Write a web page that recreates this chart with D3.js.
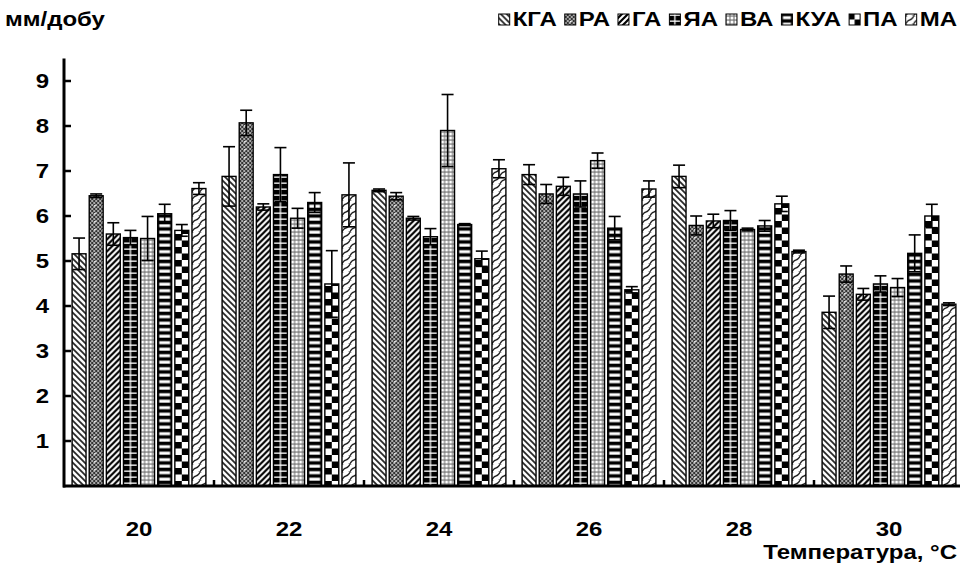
<!DOCTYPE html>
<html>
<head>
<meta charset="utf-8">
<script src="https://cdn.jsdelivr.net/npm/d3@7"></script>
<style>
  html, body { margin: 0; padding: 0; background: #fff; }
  svg { display: block; }
  text { font-family: "Liberation Sans", Arial, sans-serif; font-weight: bold; fill: #000; }
</style>
</head>
<body>
<svg id="chart" width="960" height="573"></svg>
<script>
// Temperatures (°C) on the category axis
const categories = ["20", "22", "24", "26", "28", "30"];
const seriesNames = ["КГА", "РА", "ГА", "ЯА", "ВА", "КУА", "ПА", "МА"];

// Growth rate, mm/day, one array per series (in category order)
const valKGA = [5.16, 6.88, 6.57, 6.92, 6.88, 3.86];
const valRA  = [6.45, 8.07, 6.44, 6.49, 5.79, 4.71];
const valGA  = [5.60, 6.20, 5.95, 6.66, 5.89, 4.26];
const valYA  = [5.52, 6.92, 5.54, 6.49, 5.90, 4.49];
const valVA  = [5.50, 5.95, 7.90, 7.23, 5.70, 4.41];
const valKUA = [6.05, 6.30, 5.81, 5.73, 5.78, 5.17];
const valPA  = [5.68, 4.49, 5.05, 4.36, 6.27, 6.00];
const valMA  = [6.61, 6.47, 7.05, 6.60, 5.21, 4.04];

// Error bar half-lengths
const errKGA = [0.35, 0.66, 0.03, 0.22, 0.25, 0.36];
const errRA  = [0.04, 0.28, 0.08, 0.21, 0.21, 0.18];
const errGA  = [0.25, 0.07, 0.04, 0.20, 0.15, 0.13];
const errYA  = [0.16, 0.60, 0.18, 0.29, 0.22, 0.18];
const errVA  = [0.49, 0.22, 0.80, 0.17, 0.03, 0.20];
const errKUA = [0.21, 0.22, 0.02, 0.26, 0.12, 0.41];
const errPA  = [0.13, 0.74, 0.17, 0.07, 0.17, 0.26];
const errMA  = [0.13, 0.71, 0.20, 0.18, 0.03, 0.03];

const yTicks = [1, 2, 3, 4, 5, 6, 7, 8, 9];
const yTitle = "мм/добу";
const xTitle = "Температура, °С";

const values = [valKGA, valRA, valGA, valYA, valVA, valKUA, valPA, valMA];
const errors = [errKGA, errRA, errGA, errYA, errVA, errKUA, errPA, errMA];
const patternKeys = ["kga", "ra", "ga", "ya", "va", "kua", "pa", "ma"];

const FONT = 20, STRETCH = 1.2;

const svg = d3.select("#chart");
const defs = svg.append("defs");

const x0 = d3.scaleBand().domain(categories).range([64, 964]).padding(0);
const x1 = d3.scaleBand().domain(seriesNames).range([6.5, x0.bandwidth() - 6.5]).padding(0);
const y = d3.scaleLinear().domain([0, 9.5]).range([486, 58.5]);

// Bold, slightly widened label text
function label(parent, x, yy, str, anchor) {
  const g = parent.append("g").attr("transform", `translate(${x},${yy}) scale(${STRETCH},1)`);
  return g.append("text").attr("text-anchor", anchor || "start").attr("font-size", FONT).text(str);
}

// Fill pattern builder; each pattern is anchored at (ox, 0) with width w of the mark
let patId = 0;
function makePattern(key, ox, w) {
  const id = "p" + (patId++);
  const p = defs.append("pattern").attr("id", id).attr("patternUnits", "userSpaceOnUse");
  const rect = (x, yy, ww, hh, f) => p.append("rect").attr("x", x).attr("y", yy).attr("width", ww).attr("height", hh).attr("fill", f);
  if (key === "kga") {
    p.attr("x", ox).attr("y", 0).attr("width", 6).attr("height", 6);
    rect(0, 0, 6, 6, "#fff");
    p.append("path").attr("d", "M-1,-1L7,7M-1,5L1,7M5,-1L7,1").attr("stroke", "#222").attr("stroke-width", 1.7);
  } else if (key === "ra") {
    p.attr("x", ox).attr("y", 0).attr("width", 8).attr("height", 8);
    rect(0, 0, 8, 8, "#aaa");
    for (let i = 0; i < 4; i++) for (let j = 0; j < 4; j++)
      if ((i + j) % 2 === 0) rect(i * 2, j * 2, 2, 2, "#333");
    rect(5, 5, 1.5, 1.5, "#fff");
  } else if (key === "ga") {
    p.attr("x", ox).attr("y", 0).attr("width", 6).attr("height", 6);
    rect(0, 0, 6, 6, "#fff");
    p.append("path").attr("d", "M-1,7L7,-1M-1,1L1,-1M5,7L7,5").attr("stroke", "#000").attr("stroke-width", 2.2);
  } else if (key === "ya") {
    p.attr("x", ox).attr("y", 0).attr("width", w).attr("height", 6);
    rect(0, 0, w, 6, "#000");
    rect(0, 2.5, w, 1.3, "#fff");
    rect(w / 2 - 0.65, 0, 1.3, 6, "#fff");
  } else if (key === "va") {
    p.attr("x", ox).attr("y", 0).attr("width", 4).attr("height", 4);
    rect(0, 0, 4, 4, "#888");
    p.append("circle").attr("cx", 2).attr("cy", 2).attr("r", 1.5).attr("fill", "#fff");
  } else if (key === "kua") {
    p.attr("x", ox).attr("y", 0).attr("width", w).attr("height", 6.5);
    rect(0, 0, w, 6.5, "#000");
    rect(1.5, 3.2, w - 3, 3, "#fff");
  } else if (key === "pa") {
    p.attr("x", ox).attr("y", 0).attr("width", w).attr("height", 13);
    rect(0, 0, w, 13, "#fff");
    rect(0, 0, w / 2, 6.5, "#000");
    rect(w / 2, 6.5, w / 2, 6.5, "#000");
  } else if (key === "ma") {
    p.attr("x", ox).attr("y", 0).attr("width", 8).attr("height", 8);
    rect(0, 0, 8, 8, "#fff");
    p.append("path").attr("d", "M-1,9Q2,4 4,4T9,-1M-5,5Q-2,0 0,0T5,-5M3,13Q6,8 8,8T13,3")
      .attr("fill", "none").attr("stroke", "#222").attr("stroke-width", 1.5);
  }
  return "url(#" + id + ")";
}

// Flatten into bar records
const bars = [];
categories.forEach((c, i) => {
  seriesNames.forEach((s, j) => {
    bars.push({ cat: c, ser: s, key: patternKeys[j], v: values[j][i], e: errors[j][i] });
  });
});

const inset = 1.6;
const barW = x1.bandwidth() - 2 * inset;

const barG = svg.append("g");
barG.selectAll("rect.bar").data(bars).join("rect")
  .attr("class", "bar")
  .attr("x", d => x0(d.cat) + x1(d.ser) + inset)
  .attr("y", d => y(d.v))
  .attr("width", barW)
  .attr("height", d => y(0) - y(d.v))
  .attr("fill", d => makePattern(d.key, x0(d.cat) + x1(d.ser) + inset, barW))
  .attr("stroke", "#000")
  .attr("stroke-width", 1.4);

// Error bars with caps at both ends
const errG = svg.append("g").attr("stroke", "#000").attr("stroke-width", 1.6);
bars.forEach(d => {
  const cx = x0(d.cat) + x1(d.ser) + x1.bandwidth() / 2;
  const top = y(d.v + d.e), bot = y(d.v - d.e);
  errG.append("line").attr("x1", cx).attr("x2", cx).attr("y1", top).attr("y2", bot);
  errG.append("line").attr("x1", cx - 6).attr("x2", cx + 6).attr("y1", top).attr("y2", top);
  errG.append("line").attr("x1", cx - 6).attr("x2", cx + 6).attr("y1", bot).attr("y2", bot);
});

// Y axis: line with inward ticks, labels on the left
const yAxis = svg.append("g");
yAxis.append("line").attr("x1", 64).attr("x2", 64).attr("y1", y(9.5)).attr("y2", y(0) + 1.5)
  .attr("stroke", "#000").attr("stroke-width", 3);
yAxis.selectAll("line.tick").data(yTicks).join("line").attr("class", "tick")
  .attr("x1", 64).attr("x2", 71).attr("y1", d => y(d)).attr("y2", d => y(d))
  .attr("stroke", "#000").attr("stroke-width", 2.5);
yTicks.forEach(t => label(yAxis, 49, y(t) + 7, String(t), "end"));

// X axis with group separators
const xAxis = svg.append("g");
xAxis.append("line").attr("x1", 63).attr("x2", 960).attr("y1", y(0)).attr("y2", y(0))
  .attr("stroke", "#000").attr("stroke-width", 3);
xAxis.selectAll("line.tick").data(categories.slice(1)).join("line").attr("class", "tick")
  .attr("x1", d => x0(d)).attr("x2", d => x0(d)).attr("y1", y(0)).attr("y2", y(0) - 6)
  .attr("stroke", "#000").attr("stroke-width", 2.5);
categories.forEach(c => label(xAxis, x0(c) + x0.bandwidth() / 2, 536, c, "middle"));

// Titles
label(svg, 5, 26, yTitle, "start");
label(svg, 957, 559, xTitle, "end");

// Legend, laid out right-to-left from the right edge
const legendG = svg.append("g");
let lx = 957;
const items = seriesNames.map((s, j) => ({ s, key: patternKeys[j] })).reverse();
items.forEach(it => {
  const t = label(legendG, lx, 26, it.s, "end");
  const tw = t.node().getComputedTextLength() * STRETCH;
  const ix = lx - tw - 14;
  legendG.append("rect").attr("x", ix).attr("y", 14).attr("width", 11).attr("height", 11)
    .attr("fill", makePattern(it.key, ix, 11)).attr("stroke", "#000").attr("stroke-width", 1);
  lx = ix - 8;
});
</script>
</body>
</html>
